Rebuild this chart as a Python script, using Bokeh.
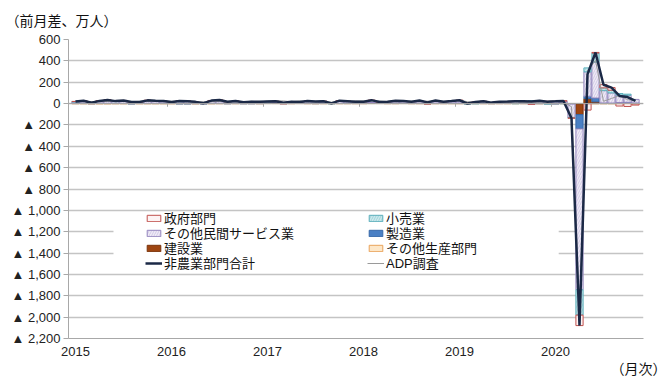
import numpy as np
from bokeh.plotting import figure
from bokeh.models import (ColumnDataSource, Legend, LegendItem, FixedTicker, Span,
                          Title, BoxAnnotation, Range1d)
from bokeh.embed import file_html
from bokeh.resources import INLINE

# ---- data (万人, monthly change, Jan 2015 .. Nov 2020) ----
years = ["2015", "2016", "2017", "2018", "2019", "2020"]
n_months = 71

nonfarm = [19, 27, 7, 25, 33, 23, 28, 15, 15, 30, 26, 24,
           15, 24, 22, 16, 4, 28, 34, 17, 25, 12, 17, 16,
           19, 22, 7, 18, 14, 24, 19, 22, 2, 27, 22, 17,
           18, 32, 15, 18, 27, 23, 18, 28, 11, 28, 17, 23,
           31, 0, 15, 21, 9, 18, 19, 21, 21, 19, 26, 18,
           21, 25, -137, -2079, 273, 478, 176, 149, 71, 61, 25]

adp = [25, 19, 19, 17, 20, 23, 18, 19, 20, 20, 21, 25,
       19, 20, 19, 16, 17, 17, 19, 17, 15, 15, 22, 15,
       24, 25, 25, 17, 25, 17, 18, 23, 13, 23, 19, 25,
       24, 23, 24, 19, 18, 18, 22, 16, 23, 22, 17, 27,
       30, 18, 13, 27, 3, 11, 14, 16, 13, 13, 12, 20,
       29, 15, -30, -1956, 306, 404, 21, 48, 75, 36, 31]

government = [1, 2, 0, 1, 2, 3, 1, 2, 1, 2, 1, 2,
              2, 3, 2, 1, 1, 2, 4, 2, 3, 1, 2, 1,
              1, 0, -1, 1, 0, 3, 1, 1, 1, 1, 1, 1,
              1, 3, 0, 1, 1, 1, 0, 3, -2, 1, 0, 2,
              1, 0, 1, 1, 2, 3, 4, 2, 4, -1, 2, 3,
              3, 2, -2, -98, -59, 6, 30, 25, -22, -27, -10]

retail = [4, 3, 1, 3, 3, 3, 3, 1, 2, 4, 4, 2,
          3, 5, 2, 5, 2, 1, 3, 1, 3, 3, 2, 1,
          4, 1, -1, 1, 0, 1, 1, 1, -1, 0, 2, 1,
          1, 3, 1, 0, 2, 0, 1, 1, -2, 1, 1, 1,
          1, -1, -2, 0, 0, 0, 0, -1, 0, 1, 3, -3,
          1, -1, -5, -237, 37, 84, 26, 25, 14, 10, -4]

other_services = [11, 19, 8, 19, 27, 17, 23, 13, 12, 22, 19, 16,
                  8, 16, 17, 10, 3, 24, 24, 14, 17, 8, 12, 13,
                  8, 11, 6, 14, 12, 17, 16, 14, 0, 23, 14, 9,
                  13, 16, 9, 12, 19, 17, 13, 19, 11, 21, 11, 15,
                  23, 2, 14, 16, 6, 12, 13, 19, 15, 23, 16, 19,
                  15, 19, -125, -1507, 228, 337, 115, 95, 70, 66, 33]

construction = [2, 3, 0, 3, 2, 1, 1, 1, 1, 3, 3, 4,
                2, 2, 3, 0, 0, 1, 2, 1, 2, 1, 2, 0,
                4, 6, 1, 1, 1, 2, 0, 3, 0, 1, 2, 3,
                1, 6, 1, 2, 3, 1, 2, 3, 2, 2, 2, 3,
                5, -1, 2, 3, 0, 2, 1, 1, 2, 1, 0, 0,
                4, 4, -2, -98, 46, 16, 2, 2, 3, 8, 3]

manufacturing = [2, 1, 0, 1, 1, 0, 1, -1, 0, 0, 0, 1,
                 1, -1, -1, 1, -1, 1, 1, -1, 0, -1, -1, 1,
                 1, 3, 1, 1, 0, 1, 1, 3, 2, 2, 3, 3,
                 2, 3, 3, 3, 2, 3, 2, 2, 2, 3, 3, 2,
                 1, 0, 0, 1, 1, 1, 1, 0, 0, -4, 5, -1,
                 -1, 1, -2, -133, 23, 36, 4, 3, 7, 4, 3]

other_goods = [-1, -1, -2, -2, -2, -1, -1, -1, -1, -1, -1, -1,
               -1, -1, -1, -1, -1, -1, 0, 0, 0, 0, 0, 0,
               1, 1, 1, 0, 1, 0, 0, 0, 0, 0, 0, 0,
               0, 1, 1, 0, 0, 1, 0, 0, 0, 0, 0, 0,
               0, 0, 0, 0, 0, 0, 0, 0, 0, -1, 0, 0,
               -1, 0, -1, -6, -2, -1, -1, -1, -1, 0, 0]

FONT = "Liberation Sans, Noto Sans CJK JP"
NUMFONT = "Liberation Sans"

x = np.arange(n_months)

p = figure(width=672, height=376, output_backend="svg", toolbar_location=None,
           x_range=Range1d(-0.875, 71.0), y_range=Range1d(-2200, 600),
           min_border_left=68, min_border_right=29, min_border_top=39,
           min_border_bottom=37)
p.outline_line_color = None
p.background_fill_color = "white"
p.border_fill_color = "white"

# top-left unit title
p.title.text = "（前月差、万人）"
p.title.align = "left"
p.title.vertical_align = "top"
p.title.offset = -63
p.title.standoff = 17
p.title.text_font = FONT
p.title.text_font_size = "14px"
p.title.text_font_style = "normal"
p.title.text_color = "#111111"

# grid
p.xgrid.grid_line_color = None
p.ygrid.grid_line_color = "#c4c4c4"
p.ygrid.grid_line_width = 1.3

# stacked bars (positives up, negatives down, like the spreadsheet)
styles = [
    ("その他生産部門", other_goods, dict(fill_color="#fde7c8", line_color="#e9a35a")),
    ("建設業", construction, dict(fill_color="#9e4511", line_color="#7a330a")),
    ("製造業", manufacturing, dict(fill_color="#4a80c4", line_color="#3668a8")),
    ("その他民間サービス業", other_services, dict(fill_color="#efebf6", line_color="#9385bd",
                                           hatch_pattern="/", hatch_color="#c0b4dc",
                                           hatch_scale=5, hatch_weight=0.6)),
    ("小売業", retail, dict(fill_color="#cbe9ec", line_color="#5aaebb",
                          hatch_pattern="/", hatch_color="#86c4ce",
                          hatch_scale=5, hatch_weight=0.6)),
    ("政府部門", government, dict(fill_color="#fdf3f3", line_color="#c0504d")),
]

pos = np.zeros(n_months)
neg = np.zeros(n_months)
bar_r = {}
for name, vals, st in styles:
    v = np.array(vals, dtype=float)
    bottom = np.where(v >= 0, pos, neg + v)
    top = np.where(v >= 0, pos + v, neg)
    pos = pos + np.where(v >= 0, v, 0)
    neg = neg + np.where(v < 0, v, 0)
    src = ColumnDataSource(dict(x=x, top=top, bottom=bottom))
    bar_r[name] = p.vbar(x="x", top="top", bottom="bottom", width=0.9, source=src,
                         line_width=1, **st)

# zero axis line and year-boundary ticks
p.add_layout(Span(location=0, dimension="width", line_color="#a8a8a8", line_width=1))
bounds = [12 * i - 0.5 for i in range(1, len(years))]
p.segment(x0=bounds, y0=[0] * len(bounds), x1=bounds, y1=[-30] * len(bounds),
          line_color="#a8a8a8", line_width=1)

line_src = ColumnDataSource(dict(x=x, nf=nonfarm, adp=adp))
adp_r = p.line("x", "adp", source=line_src, line_color="#9a9a9a", line_width=1)
nf_r = p.line("x", "nf", source=line_src, line_color="#1b2946", line_width=2.5)

# axes
yt = list(range(-2200, 601, 200))
p.yaxis.ticker = FixedTicker(ticks=yt)
p.yaxis.major_label_overrides = {t: (f"▲ {abs(t):,}" if t < 0 else f"{t}") for t in yt}
p.yaxis.minor_tick_line_color = None
p.yaxis.major_tick_out = 5
p.yaxis.major_tick_in = 0
p.yaxis.major_tick_line_color = "#a8a8a8"
p.yaxis.axis_line_color = "#a8a8a8"
p.yaxis.major_label_standoff = 3
p.yaxis.major_label_text_font = NUMFONT
p.yaxis.major_label_text_font_size = "13px"
p.yaxis.major_label_text_color = "#222222"

xt = [12 * i for i in range(len(years))]
p.xaxis.ticker = FixedTicker(ticks=xt)
p.xaxis.major_label_overrides = {t: years[i] for i, t in enumerate(xt)}
p.xaxis.minor_tick_line_color = None
p.xaxis.major_tick_line_color = None
p.xaxis.axis_line_color = "#a8a8a8"
p.xaxis.major_label_standoff = 2
p.xaxis.major_label_text_font = NUMFONT
p.xaxis.major_label_text_font_size = "13px"
p.xaxis.major_label_text_color = "#222222"

# bottom-right unit note
p.add_layout(Title(text="（月次）", align="right", offset=-23, standoff=0,
                   text_font=FONT, text_font_size="14px", text_font_style="normal",
                   text_color="#111111"), "below")

# legend background box
p.add_layout(BoxAnnotation(left=4.75, right=60.4, top=-1020, bottom=-1585,
                           fill_color="white", fill_alpha=1.0, line_color=None))

def one_legend(label, rend, xloc, yloc):
    lg = Legend(items=[LegendItem(label=label, renderers=[rend])], location=(xloc, yloc),
                label_text_font=FONT, label_text_font_size="13px",
                label_text_color="#111111", glyph_width=17, glyph_height=8,
                label_height=14, label_standoff=2, spacing=0, padding=0, margin=0,
                border_line_color=None, background_fill_alpha=0)
    p.add_layout(lg)

rows_y = [111, 96, 81, 66]
left_items = [("政府部門", bar_r["政府部門"]), ("その他民間サービス業", bar_r["その他民間サービス業"]),
              ("建設業", bar_r["建設業"]), ("非農業部門合計", nf_r)]
right_items = [("小売業", bar_r["小売業"]), ("製造業", bar_r["製造業"]),
               ("その他生産部門", bar_r["その他生産部門"]), ("ADP調査", adp_r)]
for (lab, r), yy in zip(left_items, rows_y):
    one_legend(lab, r, 77, yy)
for (lab, r), yy in zip(right_items, rows_y):
    one_legend(lab, r, 299, yy)

open("out.html", "w").write(file_html(p, INLINE))
